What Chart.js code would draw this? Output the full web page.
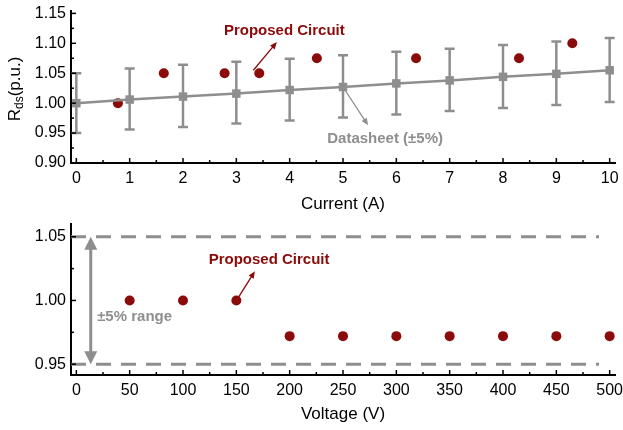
<!DOCTYPE html>
<html>
<head>
<meta charset="utf-8">
<script src="https://cdn.jsdelivr.net/npm/chart.js@4.4.0/dist/chart.umd.min.js"></script>
<style>
  body { margin: 0; background: #fff; }
  canvas { display: block; }
</style>
</head>
<body>
<canvas id="currentChart" width="623" height="215"></canvas>
<canvas id="voltageChart" width="623" height="215"></canvas>
<script>
// ---- top panel: Rds vs current ----
const currentSteps = [0, 1, 2, 3, 4, 5, 6, 7, 8, 9, 10];
const datasheetRds = [1.000, 1.006, 1.011, 1.016, 1.022, 1.027, 1.033, 1.038, 1.044, 1.049, 1.055];
const datasheetLow = [0.950, 0.956, 0.960, 0.966, 0.971, 0.976, 0.981, 0.987, 0.992, 0.997, 1.002];
const datasheetHigh = [1.050, 1.058, 1.064, 1.069, 1.074, 1.080, 1.086, 1.091, 1.097, 1.103, 1.109];
const proposedCurrent = [0.78, 1.64, 2.78, 3.43, 4.51, 6.37, 8.30, 9.30];
const proposedRdsI = [1.000, 1.050, 1.050, 1.050, 1.075, 1.075, 1.075, 1.100];
const currentTicks = [0, 1, 2, 3, 4, 5, 6, 7, 8, 9, 10];
const currentMinor = [0.5, 1.5, 2.5, 3.5, 4.5, 5.5, 6.5, 7.5, 8.5, 9.5];
const rdsTicksTop = [0.90, 0.95, 1.00, 1.05, 1.10, 1.15];
const rdsMinorTop = [0.925, 0.975, 1.025, 1.075, 1.125];

// ---- bottom panel: Rds vs voltage ----
const voltageSteps = [50, 100, 150, 200, 250, 300, 350, 400, 450, 500];
const proposedRdsV = [1.000, 1.000, 1.000, 0.972, 0.972, 0.972, 0.972, 0.972, 0.972, 0.972];
const voltageTicks = [0, 50, 100, 150, 200, 250, 300, 350, 400, 450, 500];
const voltageMinor = [25, 75, 125, 175, 225, 275, 325, 375, 425, 475];
const rdsTicksBottom = [0.95, 1.00, 1.05];
const rdsMinorBottom = [0.975, 1.025];
const rangeLimits = [0.95, 1.05];
const rangeSpan = [-5, 490];

const GRAY = '#8e8e8e';
const RED = '#8b0a0a';
const FONT = '"Liberation Sans", Arial, sans-serif';

// inward tick marks (Origin style)
const inwardTicks = {
  id: 'inwardTicks',
  afterDraw(chart, args, opts) {
    const { ctx, chartArea } = chart;
    const xs = chart.scales.x, ys = chart.scales.y;
    ctx.save();
    ctx.strokeStyle = '#000';
    ctx.lineWidth = 1.5;
    const mark = (px, py, dx, dy) => {
      ctx.beginPath(); ctx.moveTo(px, py); ctx.lineTo(px + dx, py + dy); ctx.stroke();
    };
    opts.xMajor.forEach(v => mark(xs.getPixelForValue(v), chartArea.bottom, 0, -5));
    opts.xMinor.forEach(v => mark(xs.getPixelForValue(v), chartArea.bottom, 0, -3));
    opts.yMajor.forEach(v => mark(chartArea.left, ys.getPixelForValue(v), 5, 0));
    opts.yMinor.forEach(v => mark(chartArea.left, ys.getPixelForValue(v), 3, 0));
    ctx.restore();
  }
};

// y title with subscript: R_ds(p.u.)
const rdsTitle = {
  id: 'rdsTitle',
  afterDraw(chart, args, opts) {
    const ctx = chart.ctx;
    const big = '17px ' + FONT, small = '12px ' + FONT;
    ctx.save();
    ctx.font = big; const wR = ctx.measureText('R').width; const wTail = ctx.measureText(opts.tail).width;
    ctx.font = small; const wSub = ctx.measureText('ds').width;
    const total = wR + wSub + wTail;
    ctx.translate(opts.cx, opts.cy);
    ctx.rotate(-Math.PI / 2);
    ctx.fillStyle = '#000';
    ctx.textBaseline = 'middle';
    let x = -total / 2;
    ctx.font = big; ctx.fillText('R', x, 0); x += wR;
    ctx.font = small; ctx.fillText('ds', x, 4); x += wSub;
    ctx.font = big; ctx.fillText(opts.tail, x, 0);
    ctx.restore();
  }
};

// error bars for the datasheet curve
const errorBars = {
  id: 'errorBars',
  beforeDatasetsDraw(chart) {
    if (chart.canvas.id !== 'currentChart') return;
    const { ctx } = chart;
    const xs = chart.scales.x, ys = chart.scales.y;
    ctx.save();
    ctx.strokeStyle = GRAY;
    ctx.lineWidth = 2.5;
    currentSteps.forEach((c, i) => {
      const px = xs.getPixelForValue(c);
      const lo = ys.getPixelForValue(datasheetLow[i]);
      const hi = ys.getPixelForValue(datasheetHigh[i]);
      ctx.beginPath();
      ctx.moveTo(px, lo); ctx.lineTo(px, hi);
      ctx.moveTo(px - 5, lo); ctx.lineTo(px + 5, lo);
      ctx.moveTo(px - 5, hi); ctx.lineTo(px + 5, hi);
      ctx.stroke();
    });
    ctx.restore();
  }
};

function arrowHead(ctx, x1, y1, x2, y2, len, half) {
  const a = Math.atan2(y2 - y1, x2 - x1);
  ctx.beginPath();
  ctx.moveTo(x2, y2);
  ctx.lineTo(x2 - len * Math.cos(a) + half * Math.sin(a), y2 - len * Math.sin(a) - half * Math.cos(a));
  ctx.lineTo(x2 - len * Math.cos(a) - half * Math.sin(a), y2 - len * Math.sin(a) + half * Math.cos(a));
  ctx.closePath();
  ctx.fill();
}

// labels and arrows placed in data coordinates
const notes = {
  id: 'notes',
  afterDatasetsDraw(chart, args, opts) {
    const { ctx } = chart;
    const xs = chart.scales.x, ys = chart.scales.y;
    ctx.save();
    (opts.items || []).forEach(it => {
      if (it.text) {
        ctx.font = 'bold 15px ' + FONT;
        ctx.fillStyle = it.color;
        ctx.textAlign = it.align || 'center';
        ctx.textBaseline = 'middle';
        ctx.fillText(it.text, xs.getPixelForValue(it.at[0]), ys.getPixelForValue(it.at[1]));
      } else {
        const x1 = xs.getPixelForValue(it.from[0]), y1 = ys.getPixelForValue(it.from[1]);
        const x2 = xs.getPixelForValue(it.to[0]), y2 = ys.getPixelForValue(it.to[1]);
        const a = Math.atan2(y2 - y1, x2 - x1);
        ctx.strokeStyle = it.color; ctx.fillStyle = it.color;
        ctx.lineWidth = it.width;
        const cut = it.head * 0.8;
        const sx = it.both ? x1 + cut * Math.cos(a) : x1, sy = it.both ? y1 + cut * Math.sin(a) : y1;
        ctx.beginPath();
        ctx.moveTo(sx, sy);
        ctx.lineTo(x2 - cut * Math.cos(a), y2 - cut * Math.sin(a));
        ctx.stroke();
        arrowHead(ctx, x1, y1, x2, y2, it.head, it.half);
        if (it.both) arrowHead(ctx, x2, y2, x1, y1, it.head, it.half);
      }
    });
    ctx.restore();
  }
};

function axisX(min, max, ticks, fmt, titleText, titlePad, height) {
  return {
    type: 'linear', min: min, max: max,
    afterBuildTicks: s => { s.ticks = ticks.map(v => ({ value: v })); },
    afterFit: s => { s.height = height; s.paddingLeft = 0; s.paddingRight = 0; },
    grid: { display: false, drawTicks: false },
    border: { display: true, color: '#000', width: 2 },
    ticks: { color: '#000', padding: 6, maxRotation: 0, autoSkip: false, font: { family: FONT, size: 16 }, callback: fmt },
    title: { display: true, text: titleText, color: '#000', font: { family: FONT, size: 17 }, padding: { top: 0, bottom: titlePad } }
  };
}

function axisY(min, max, ticks) {
  return {
    type: 'linear', min: min, max: max,
    afterBuildTicks: s => { s.ticks = ticks.map(v => ({ value: v })); },
    afterFit: s => { s.width = 71; s.paddingTop = 0; s.paddingBottom = 0; },
    grid: { display: false, drawTicks: false },
    border: { display: true, color: '#000', width: 2 },
    ticks: { color: '#000', padding: 5, font: { family: FONT, size: 16 }, callback: v => v.toFixed(2) }
  };
}

const common = {
  responsive: false,
  animation: false,
  plugins: { legend: { display: false }, tooltip: { enabled: false } }
};

new Chart(document.getElementById('currentChart'), {
  type: 'scatter',
  data: {
    datasets: [
      {
        label: 'Datasheet (±5%)',
        data: currentSteps.map((c, i) => ({ x: c, y: datasheetRds[i] })),
        showLine: true,
        borderColor: GRAY, borderWidth: 2.5,
        pointStyle: 'rect', pointRadius: 6,
        pointBackgroundColor: GRAY, pointBorderColor: GRAY, pointBorderWidth: 0
      },
      {
        label: 'Proposed Circuit',
        data: proposedCurrent.map((c, i) => ({ x: c, y: proposedRdsI[i] })),
        pointRadius: 5, pointBackgroundColor: RED, pointBorderColor: RED, pointBorderWidth: 0
      }
    ]
  },
  options: {
    ...common,
    layout: { padding: { top: 11, right: 8, left: 0, bottom: 0 } },
    scales: {
      x: axisX(-0.1, 10.1, currentTicks, v => String(v), 'Current (A)', 0, 52),
      y: axisY(0.9, 1.154, rdsTicksTop)
    },
    plugins: {
      ...common.plugins,
      inwardTicks: { xMajor: currentTicks, xMinor: currentMinor, yMajor: rdsTicksTop, yMinor: rdsMinorTop },
      rdsTitle: { cx: 15.5, cy: 89, tail: '(p.u.)' },
      notes: {
        items: [
          { text: 'Proposed Circuit', at: [3.90, 1.120], color: RED },
          { from: [3.32, 1.055], to: [3.76, 1.102], color: RED, width: 1.3, head: 7, half: 3 },
          { text: 'Datasheet (±5%)', at: [5.79, 0.941], color: GRAY },
          { from: [5.0, 1.027], to: [5.47, 0.963], color: GRAY, width: 1.3, head: 7, half: 3 }
        ]
      }
    }
  },
  plugins: [errorBars, inwardTicks, rdsTitle, notes]
});

new Chart(document.getElementById('voltageChart'), {
  type: 'scatter',
  data: {
    datasets: [
      ...rangeLimits.map(lim => ({
        label: 'limit ' + lim,
        data: rangeSpan.map(v => ({ x: v, y: lim })),
        showLine: true,
        borderColor: GRAY, borderWidth: 3, borderDash: [15, 10],
        pointRadius: 0
      })),
      {
        label: 'Proposed Circuit',
        data: voltageSteps.map((v, i) => ({ x: v, y: proposedRdsV[i] })),
        pointRadius: 5, pointBackgroundColor: RED, pointBorderColor: RED, pointBorderWidth: 0
      }
    ]
  },
  options: {
    ...common,
    layout: { padding: { top: 9, right: 8, left: 0, bottom: 0 } },
    scales: {
      x: axisX(-5, 505, voltageTicks, v => String(v), 'Voltage (V)', 5, 55),
      y: axisY(0.9415, 1.06, rdsTicksBottom)
    },
    plugins: {
      ...common.plugins,
      inwardTicks: { xMajor: voltageTicks, xMinor: voltageMinor, yMajor: rdsTicksBottom, yMinor: rdsMinorBottom },
      rdsTitle: { cx: 15.5, cy: 285, tail: ' (p.u.)' },
      notes: {
        items: [
          { from: [13.5, 1.05], to: [13.5, 0.95], color: GRAY, width: 3, head: 13, half: 6.5, both: true },
          { text: '±5% range', at: [19.5, 0.987], color: GRAY, align: 'left' },
          { text: 'Proposed Circuit', at: [180.7, 1.032], color: RED },
          { from: [150.5, 1.0005], to: [167.4, 1.023], color: RED, width: 1.3, head: 7, half: 3 }
        ]
      }
    }
  },
  plugins: [inwardTicks, rdsTitle, notes]
});
</script>
</body>
</html>
